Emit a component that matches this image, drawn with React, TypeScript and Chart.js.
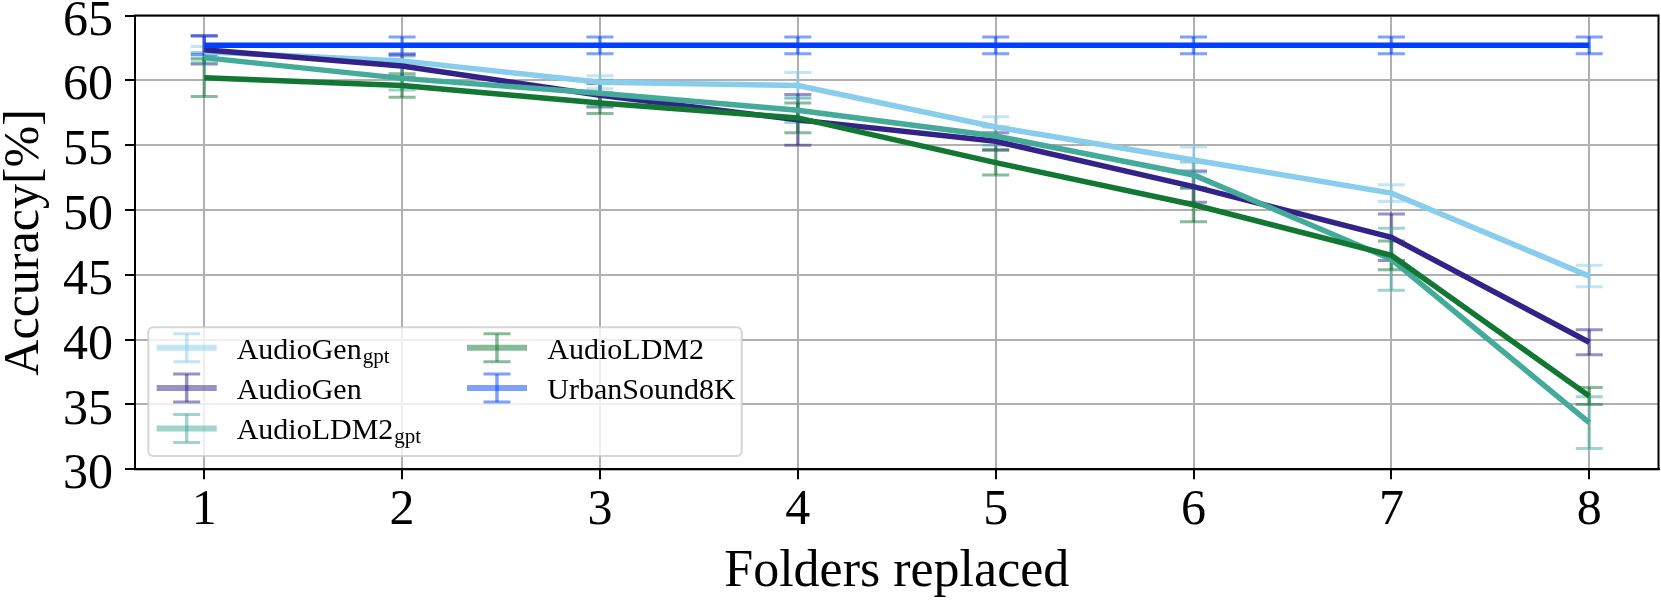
import React, { useEffect, useRef } from 'react';
import { Chart, registerables } from 'chart.js';

Chart.register(...registerables);

const FONT = '"Liberation Serif", "Times New Roman", serif';

// ---- data ----
const folders = [1, 2, 3, 4, 5, 6, 7, 8];
const xTickValues = [1, 2, 3, 4, 5, 6, 7, 8];
const yTickValues = [30, 35, 40, 45, 50, 55, 60, 65];

const seriesNames = ['AudioGen', 'AudioGen', 'AudioLDM2', 'AudioLDM2', 'UrbanSound8K'];
const seriesSubs = ['gpt', '', 'gpt', '', ''];
const seriesColors = ['#88CCEE', '#332288', '#44AA99', '#117733', '#0041FF'];

const audioGenGptAcc = [62.2, 61.5, 59.85, 59.6, 56.4, 53.85, 51.3, 44.9];
const audioGenGptErr = [0.4, 0.35, 0.5, 1.0, 0.8, 1.0, 0.65, 0.83];
const audioGenAcc = [62.35, 61.1, 58.85, 56.95, 55.3, 51.8, 47.9, 39.8];
const audioGenErr = [1.1, 0.85, 0.9, 1.95, 0.65, 1.2, 1.8, 0.97];
const audioLdm2GptAcc = [61.75, 60.15, 59.0, 57.7, 55.7, 52.7, 46.2, 33.6];
const audioLdm2GptErr = [0.4, 0.9, 1.0, 0.95, 0.7, 1.0, 2.4, 2.0];
const audioLdm2Acc = [60.2, 59.6, 58.25, 57.1, 53.65, 50.4, 46.5, 35.65];
const audioLdm2Err = [1.45, 0.9, 0.8, 1.15, 0.95, 1.3, 1.1, 0.65];
const urbanSoundAcc = [62.7, 62.7, 62.7, 62.7, 62.7, 62.7, 62.7, 62.7];
const urbanSoundErr = [0.7, 0.65, 0.65, 0.65, 0.65, 0.65, 0.65, 0.65];

const seriesAcc = [audioGenGptAcc, audioGenAcc, audioLdm2GptAcc, audioLdm2Acc, urbanSoundAcc];
const seriesErr = [audioGenGptErr, audioGenErr, audioLdm2GptErr, audioLdm2Err, urbanSoundErr];

const errorBarPlugin = {
  id: 'errorBars',
  beforeDatasetsDraw(chart: any) {
    const { ctx, chartArea, scales } = chart;
    const xs = scales.x;
    const ys = scales.y;
    ctx.save();
    ctx.beginPath();
    ctx.rect(chartArea.left, chartArea.top, chartArea.right - chartArea.left, chartArea.bottom - chartArea.top);
    ctx.clip();
    chart.data.datasets.forEach((ds: any) => {
      ctx.strokeStyle = ds.borderColor;
      ctx.globalAlpha = 0.5;
      ds.data.forEach((p: any, j: number) => {
        const e = ds.errors[j];
        const px = xs.getPixelForValue(p.x);
        const top = ys.getPixelForValue(p.y + e);
        const bot = ys.getPixelForValue(p.y - e);
        ctx.lineWidth = 3.5;
        ctx.beginPath();
        ctx.moveTo(px, top);
        ctx.lineTo(px, bot);
        ctx.stroke();
        ctx.lineWidth = 3;
        ctx.beginPath();
        ctx.moveTo(px - 13.5, top);
        ctx.lineTo(px + 13.5, top);
        ctx.stroke();
        ctx.beginPath();
        ctx.moveTo(px - 13.5, bot);
        ctx.lineTo(px + 13.5, bot);
        ctx.stroke();
      });
    });
    ctx.restore();
  },
};

const framePlugin = {
  id: 'frame',
  afterDatasetsDraw(chart: any) {
    const { ctx, chartArea } = chart;
    ctx.save();
    ctx.strokeStyle = '#000';
    ctx.lineWidth = 2;
    ctx.strokeRect(chartArea.left, chartArea.top, chartArea.right - chartArea.left, chartArea.bottom - chartArea.top);
    ctx.restore();
  },
};

const legendPlugin = {
  id: 'innerLegend',
  afterDraw(chart: any) {
    const { ctx, chartArea } = chart;
    const W = 593.4;
    const H = 128.7;
    const L = chartArea.left + 13.3;
    const T = chartArea.bottom - 13.3 - H;
    ctx.save();
    ctx.beginPath();
    ctx.roundRect(L, T, W, H, 5);
    ctx.fillStyle = 'rgba(255,255,255,0.8)';
    ctx.fill();
    ctx.strokeStyle = 'rgba(204,204,204,0.8)';
    ctx.lineWidth = 2;
    ctx.stroke();
    chart.data.datasets.forEach((ds: any, i: number) => {
      const col = i < 3 ? 0 : 1;
      const row = i < 3 ? i : i - 3;
      const hx = L + (col ? 348.7 : 38.4);
      const tx = L + (col ? 399 : 88.4);
      const cy = T + 20.5 + row * 40.3;
      ctx.strokeStyle = ds.borderColor;
      ctx.globalAlpha = 0.5;
      ctx.lineWidth = 6;
      ctx.beginPath();
      ctx.moveTo(hx - 30, cy);
      ctx.lineTo(hx + 30, cy);
      ctx.stroke();
      ctx.lineWidth = 3.5;
      ctx.beginPath();
      ctx.moveTo(hx, cy - 14);
      ctx.lineTo(hx, cy + 14);
      ctx.stroke();
      ctx.lineWidth = 3;
      ctx.beginPath();
      ctx.moveTo(hx - 13.5, cy - 14);
      ctx.lineTo(hx + 13.5, cy - 14);
      ctx.moveTo(hx - 13.5, cy + 14);
      ctx.lineTo(hx + 13.5, cy + 14);
      ctx.stroke();
      ctx.globalAlpha = 1;
      ctx.fillStyle = '#000';
      ctx.textAlign = 'left';
      ctx.textBaseline = 'alphabetic';
      ctx.font = `30px ${FONT}`;
      const name = seriesNames[i];
      ctx.fillText(name, tx, cy + 11);
      const sub = seriesSubs[i];
      if (sub) {
        const w = ctx.measureText(name).width;
        ctx.font = `21px ${FONT}`;
        ctx.fillText(sub, tx + w + 1, cy + 15);
      }
    });
    ctx.restore();
  },
};

export default function App() {
  const ref = useRef<HTMLCanvasElement>(null);
  useEffect(() => {
    const datasets = seriesAcc.map((acc, i) => ({
      label: seriesNames[i] + (seriesSubs[i] ? '_' + seriesSubs[i] : ''),
      data: folders.map((f, j) => ({ x: f, y: acc[j] })),
      errors: seriesErr[i],
      borderColor: seriesColors[i],
      backgroundColor: seriesColors[i],
      borderWidth: 5.5,
      pointRadius: 0,
      tension: 0,
      fill: false,
      order: seriesAcc.length - i,
    }));
    const chart = new Chart(ref.current as HTMLCanvasElement, {
      type: 'line',
      data: { datasets } as any,
      options: {
        animation: false,
        responsive: false,
        devicePixelRatio: 1,
        layout: { padding: { top: 15.5, right: 2.5, left: 0, bottom: 0 }, autoPadding: false } as any,
        plugins: { legend: { display: false }, tooltip: { enabled: false } },
        scales: {
          x: {
            type: 'linear',
            min: 0.65,
            max: 8.35,
            afterBuildTicks: (s: any) => {
              s.ticks = xTickValues.map((v) => ({ value: v }));
            },
            afterFit: (s: any) => {
              s.height = 601 - 469.3;
              s.paddingLeft = 0;
              s.paddingRight = 0;
            },
            grid: { color: '#b0b0b0', lineWidth: 2, drawTicks: true, tickLength: 10, tickColor: '#000', tickWidth: 2 },
            border: { display: true, color: '#000', width: 2 },
            ticks: { font: { family: FONT, size: 50 }, color: '#000', padding: 2, maxRotation: 0, autoSkip: false },
            title: {
              display: true,
              text: 'Folders replaced',
              color: '#000',
              font: { family: FONT, size: 52, lineHeight: 1 },
              padding: { top: 0, bottom: 3 },
            },
          },
          y: {
            type: 'linear',
            min: 30,
            max: 65,
            afterBuildTicks: (s: any) => {
              s.ticks = yTickValues.map((v) => ({ value: v }));
            },
            afterFit: (s: any) => {
              s.width = 135;
              s.paddingTop = 0;
              s.paddingBottom = 0;
            },
            grid: { color: '#b0b0b0', lineWidth: 2, drawTicks: true, tickLength: 10, tickColor: '#000', tickWidth: 2 },
            border: { display: true, color: '#000', width: 2 },
            ticks: { font: { family: FONT, size: 50 }, color: '#000', padding: 12, labelOffset: 6, autoSkip: false },
            title: {
              display: true,
              text: 'Accuracy[%]',
              color: '#000',
              font: { family: FONT, size: 50, lineHeight: 1 },
              padding: { top: 0, bottom: 0 },
            },
          },
        },
      } as any,
      plugins: [errorBarPlugin, framePlugin, legendPlugin],
    });
    return () => chart.destroy();
  }, []);
  return (
    <div style={{ position: 'absolute', left: 0, top: 0, width: 1661, height: 601, background: '#fff' }}>
      <canvas ref={ref} width={1661} height={601} style={{ display: 'block', width: 1661, height: 601 }} />
    </div>
  );
}
